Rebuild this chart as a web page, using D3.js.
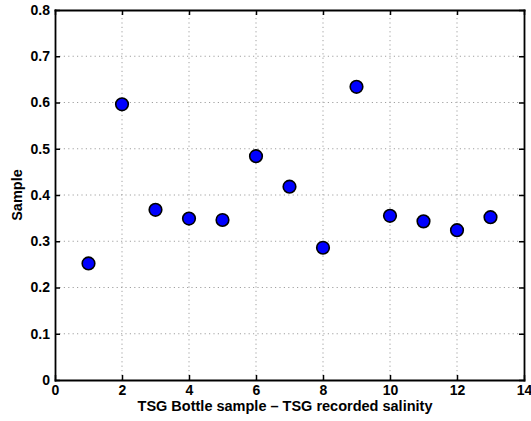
<!DOCTYPE html>
<html lang="en">
<head>
  <meta charset="UTF-8">
  <title>TSG salinity</title>
  <style>
    body { margin: 0; background: #fff; }
    svg { display: block; }
    .tick text { font-family: "Liberation Sans", Arial, sans-serif; font-weight: bold; font-size: 14px; fill: #000; }
    .lbl { font-family: "Liberation Sans", Arial, sans-serif; font-weight: bold; font-size: 14.5px; fill: #000; }
    .grid line { stroke: #a0a0a0; stroke-dasharray: 1.2 3.2; stroke-width: 1; }
  </style>
</head>
<body>
  <svg id="chart" width="531" height="421"></svg>
  <script src="https://cdn.jsdelivr.net/npm/d3@7"></script>
  <script>
    const sampleNo = [1, 2, 3, 4, 5, 6, 7, 8, 9, 10, 11, 12, 13]
    const diffVals = [0.252, 0.596, 0.368, 0.349, 0.346, 0.484, 0.418, 0.286, 0.634, 0.355, 0.343, 0.324, 0.352]
    const xTicks = [0, 2, 4, 6, 8, 10, 12, 14]
    const yTicks = [0, 0.1, 0.2, 0.3, 0.4, 0.5, 0.6, 0.7, 0.8]

    const m = { left: 55, right: 7, top: 10, bottom: 41 }
    const W = 531, H = 421
    const svg = d3.select('#chart')

    const x = d3.scaleLinear().domain([0, 14]).range([m.left, W - m.right])
    const y = d3.scaleLinear().domain([0, 0.8]).range([H - m.bottom, m.top])

    // grid
    svg.append('g').attr('class', 'grid')
      .selectAll('line').data(xTicks.slice(1, -1)).enter().append('line')
      .attr('x1', d => x(d)).attr('x2', d => x(d))
      .attr('y1', y(0)).attr('y2', y(0.8))
    svg.append('g').attr('class', 'grid')
      .selectAll('line').data(yTicks.slice(1, -1)).enter().append('line')
      .attr('y1', d => y(d)).attr('y2', d => y(d))
      .attr('x1', x(0)).attr('x2', x(14))

    // axes (ticks point inward, on all four sides)
    const fmtY = d => d === 0 ? '0' : d3.format('.1f')(d)
    svg.append('g').attr('transform', `translate(0,${y(0)})`)
      .call(d3.axisBottom(x).tickValues(xTicks).tickSize(-5).tickSizeOuter(0).tickPadding(5))
    svg.append('g').attr('transform', `translate(${x(0)},0)`)
      .call(d3.axisLeft(y).tickValues(yTicks).tickFormat(fmtY).tickSize(-5).tickSizeOuter(0).tickPadding(5))
    svg.append('g').attr('transform', `translate(0,${y(0.8)})`)
      .call(d3.axisTop(x).tickValues(xTicks).tickSize(-5).tickSizeOuter(0).tickFormat(''))
    svg.append('g').attr('transform', `translate(${x(14)},0)`)
      .call(d3.axisRight(y).tickValues(yTicks).tickSize(-5).tickSizeOuter(0).tickFormat(''))
    svg.selectAll('.domain').attr('stroke', '#000').attr('stroke-width', 1.8).attr('stroke-linecap', 'square')
    svg.selectAll('.tick line').attr('stroke', '#000').attr('stroke-width', 1.5)

    // points
    svg.append('g').selectAll('circle').data(sampleNo).enter().append('circle')
      .attr('cx', d => x(d))
      .attr('cy', (d, i) => y(diffVals[i]))
      .attr('r', 6.3)
      .attr('fill', '#0000ff')
      .attr('stroke', '#000')
      .attr('stroke-width', 1.6)

    // labels
    svg.append('text').attr('class', 'lbl')
      .attr('x', (x(0) + x(14)) / 2 - 4.5).attr('y', 411)
      .attr('text-anchor', 'middle')
      .text('TSG Bottle sample \u2013 TSG recorded salinity')
    svg.append('text').attr('class', 'lbl')
      .attr('transform', `translate(22,${(y(0) + y(0.8)) / 2}) rotate(-90)`)
      .attr('text-anchor', 'middle')
      .text('Sample')
  </script>
</body>
</html>
